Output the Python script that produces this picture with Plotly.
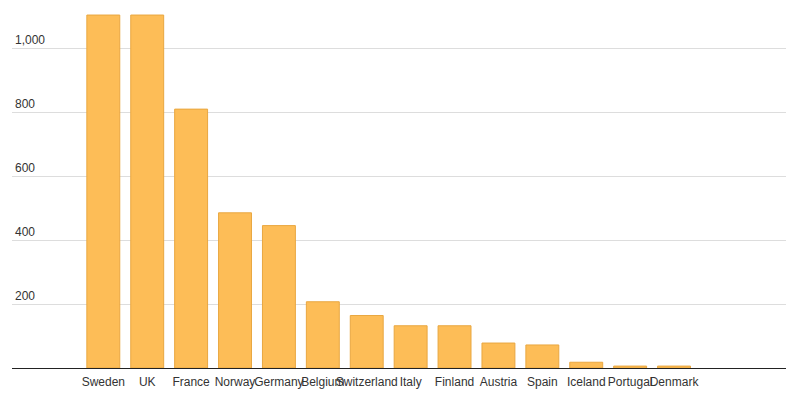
import plotly.graph_objects as go

# Data
countries = ['Sweden', 'UK', 'France', 'Norway', 'Germany', 'Belgium',
             'Switzerland', 'Italy', 'Finland', 'Austria', 'Spain',
             'Iceland', 'Portugal', 'Denmark']
values = [1103, 1103, 809, 485, 445, 207, 164, 132, 132, 78, 72, 18, 6, 6]
y_ticks = [200, 400, 600, 800, 1000]
y_tick_labels = ['200', '400', '600', '800', '1,000']

fig = go.Figure(go.Bar(
    x=countries,
    y=values,
    marker=dict(color='#FDBD57', line=dict(color='#E9A741', width=1)),
))

# page body adds an 8px margin, so the margins here are shifted to make up for it
fig.update_layout(
    width=800,
    height=406,
    margin=dict(l=4, r=22, t=0, b=46),
    plot_bgcolor='white',
    paper_bgcolor='white',
    bargap=0.25,
    showlegend=False,
    font=dict(family='Liberation Sans, Arial, sans-serif', size=12, color='#333333'),
)

fig.update_xaxes(
    range=[-2.08, 15.55],
    tickangle=0,
    showgrid=False,
    showline=True,
    linecolor='#222222',
    linewidth=1,
    ticks='',
    ticklabelstandoff=3,
    tickfont=dict(size=12, color='#333333'),
)

fig.update_yaxes(
    range=[0, 1125],
    tickvals=y_ticks,
    ticktext=y_tick_labels,
    ticklabelposition='inside top',
    showgrid=True,
    gridcolor='#dddddd',
    gridwidth=1,
    zeroline=False,
    showline=False,
    ticks='',
    tickfont=dict(size=12, color='#333333'),
)

fig.write_html('out.html')
